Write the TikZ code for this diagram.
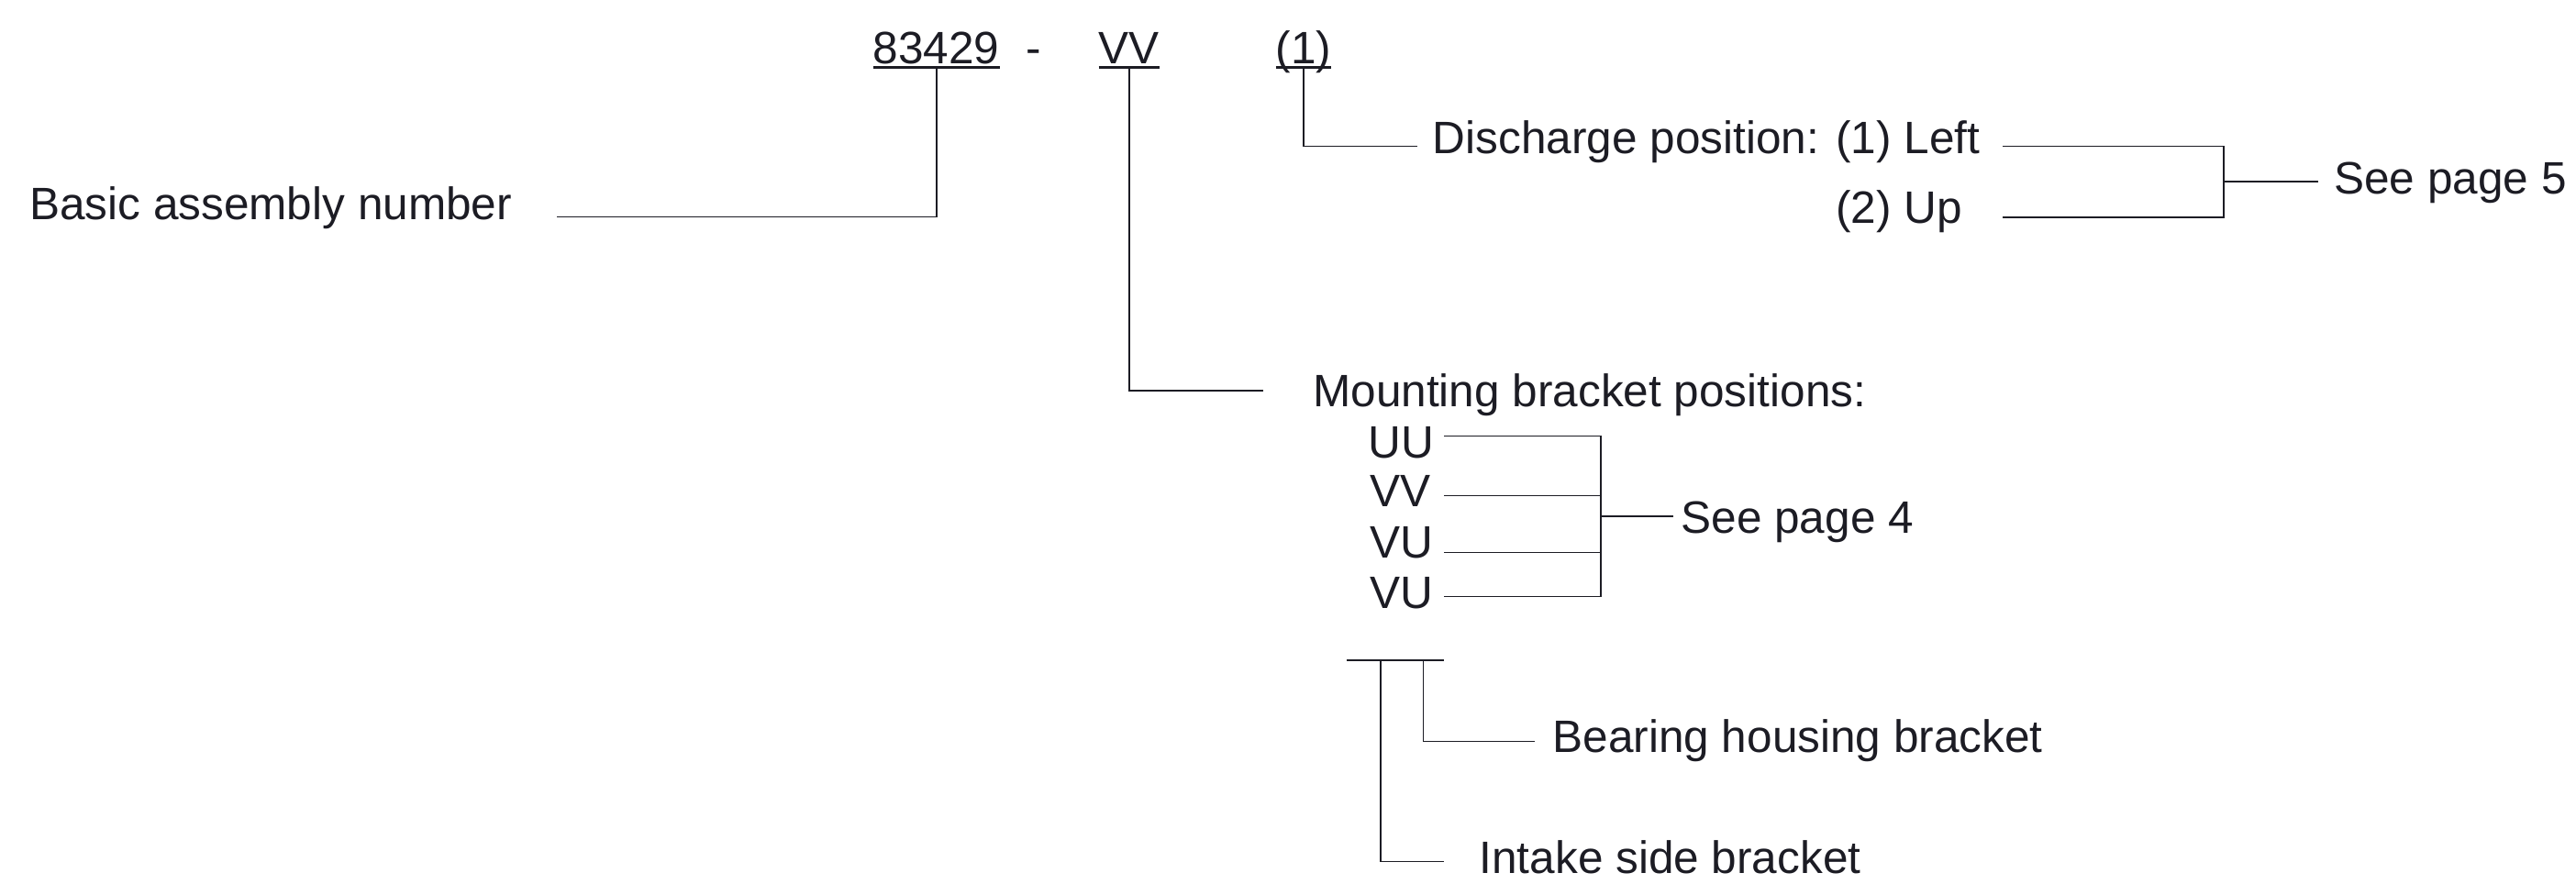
\documentclass[tikz,border=0pt]{standalone}
\usepackage{fontspec}
\setmainfont{Liberation Sans}
\usepackage{xcolor}
\usetikzlibrary{calc,positioning}
\definecolor{ink}{RGB}{28,28,36}

\begin{document}
\begin{tikzpicture}
            [x=0.1mm,y=-0.1mm,
             lbl/.style ={anchor=base west,inner sep=0pt,outer sep=0pt,text=ink,font=\fontsize{7.87pt}{9pt}\selectfont},
             wire/.style ={draw=ink,line width=0.27pt},
             uline/.style ={draw=ink,line width=0.42pt}]
            \useasboundingbox (0,0) rectangle (1568,538.3);
            % the code
            \node[lbl] (num) at (531.5,38.7) {83429};
            \node[lbl] (dash) at (624.3,38.7) {-};
            \node[lbl] (mnt) at (668.8,38.7) {VV};
            \node[lbl] (dis) at (776.5,38.7) {(1)};
            \coordinate (numU) at ($(num.base)+(0,2.3)$);
            \coordinate (mntU) at ($(mnt.base)+(0,2.3)$);
            \coordinate (disU) at ($(dis.base)+(0,2.3)$);
            \draw[uline] ($(num.base west)+(0,2.3)$) -- ($(num.base east)+(0,2.3)$);
            \draw[uline] ($(mnt.base west)+(0,2.3)$) -- ($(mnt.base east)+(0,2.3)$);
            \draw[uline] ($(dis.base west)+(0,2.3)$) -- ($(dis.base east)+(0,2.3)$);
            % labels
            \node[lbl] (basic) at (18,133.5) {Basic assembly number};
            \node[lbl] (discharge) at (872.2,93.5) {Discharge position: (1) Left};
            \node[lbl] (up) at (1117.6,136) {(2) Up};
            \node[lbl] (page5) at (1420.7,118) {See page 5};
            \node[lbl] (mounting) at (799.2,247.5) {Mounting bracket positions:};
            \node[lbl] (uu) at (833,278.8) {UU};
            \node[lbl] (vv) at (834,308.6) {VV};
            \node[lbl] (vua) at (834,339.7) {VU};
            \node[lbl] (vub) at (834,370.4) {VU};
            \node[lbl] (page4) at (1023.3,324.7) {See page 4};
            \node[lbl] (bearing) at (945.1,458.3) {Bearing housing bracket};
            \node[lbl] (intake) at (900.5,532) {Intake side bracket};
            % leader ends
            \coordinate (basicE) at (339,132);
            \coordinate (mountE) at (769,238);
            \coordinate (disE) at (862.7,89);
            \coordinate (l5) at (1219.2,89);
            \coordinate (u5) at (1219.2,132.2);
            \coordinate (k5) at (1353.5,0);
            \coordinate (s5) at (1353.5,110.5);
            \coordinate (k4) at (974.4,0);
            \coordinate (s4) at (974.4,314.2);
            \draw[wire] (numU) |- (basicE) (mntU) |- (mountE) (disU) |- (disE);
            \draw[wire] (l5) -- (l5 -| k5) -- (u5 -| k5) -- (u5);
            \draw[wire] (s5) -- ++(57.3,0);
            \draw[wire] (879,265.6) -- (879,265.6 -| k4) -- (879,363.3 -| k4) -- (879,363.3);
            \draw[wire] (879,301.9) -- (974.4,301.9) (879,336.5) -- (974.4,336.5);
            \draw[wire] (s4) -- (1018.5,314.2);
            % bracket stack
            \coordinate (barL) at (819.7,402);
            \coordinate (barR) at (879.2,402);
            \coordinate (intakeT) at (840.2,402);
            \coordinate (bearT) at (866.4,402);
            \draw[wire] (barL) -- (barR);
            \draw[wire] (intakeT) |- (879.2,524.7) (bearT) |- (934.3,451.4);
        \end{tikzpicture}
\end{document}
